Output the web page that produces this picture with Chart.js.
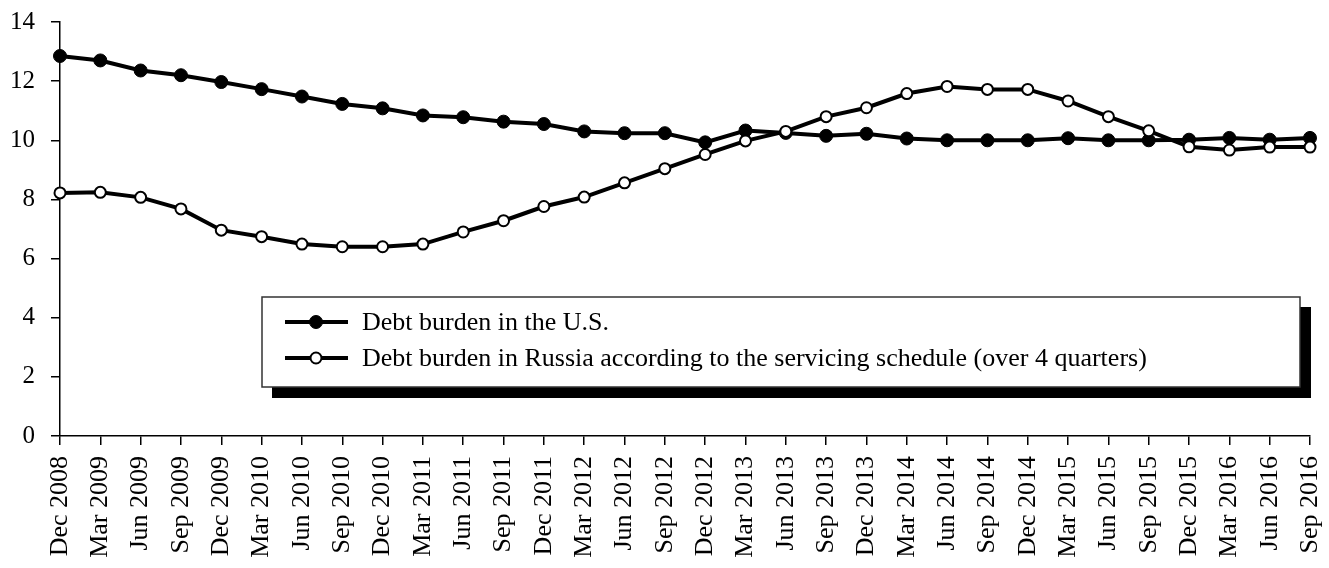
<!DOCTYPE html>
<html>
<head>
<meta charset="utf-8">
<script src="https://cdn.jsdelivr.net/npm/chart.js@4/dist/chart.umd.min.js"></script>
<style>
  html, body { margin: 0; padding: 0; background: #fff; }
  #wrap { width: 1329px; height: 568px; }
</style>
</head>
<body>
<div id="wrap"><canvas id="grafica"></canvas></div>
<script>
const trimestres = [
  "Dec 2008", "Mar 2009", "Jun 2009", "Sep 2009", "Dec 2009", "Mar 2010", "Jun 2010", "Sep 2010",
  "Dec 2010", "Mar 2011", "Jun 2011", "Sep 2011", "Dec 2011", "Mar 2012", "Jun 2012", "Sep 2012",
  "Dec 2012", "Mar 2013", "Jun 2013", "Sep 2013", "Dec 2013", "Mar 2014", "Jun 2014", "Sep 2014",
  "Dec 2014", "Mar 2015", "Jun 2015", "Sep 2015", "Dec 2015", "Mar 2016", "Jun 2016", "Sep 2016"
];

const deudaUSA = [
  12.85, 12.7, 12.36, 12.2, 11.97, 11.73, 11.48, 11.23,
  11.08, 10.84, 10.78, 10.63, 10.55, 10.3, 10.24, 10.24,
  9.93, 10.33, 10.25, 10.15, 10.22, 10.06, 10.0, 10.0,
  10.0, 10.07, 10.0, 10.0, 10.02, 10.08, 10.02, 10.08
];

const deudaRusia = [
  8.22, 8.24, 8.07, 7.68, 6.96, 6.74, 6.49, 6.4,
  6.4, 6.49, 6.9, 7.28, 7.76, 8.08, 8.56, 9.04,
  9.52, 9.98, 10.3, 10.8, 11.1, 11.58, 11.82, 11.72,
  11.72, 11.33, 10.8, 10.32, 9.78, 9.67, 9.77, 9.77
];

const ticksY = [0, 2, 4, 6, 8, 10, 12, 14];

const etiquetas = [
  "Debt burden in the U.S.",
  "Debt burden in Russia according to the servicing schedule (over 4 quarters)"
];

const fuente = "'Liberation Serif', 'Times New Roman', serif";

// leyenda con sombra negra, dibujada a mano
const leyendaSombra = {
  id: "leyendaSombra",
  afterDraw(chart) {
    const ctx = chart.ctx;
    const x0 = 262, y0 = 297, x1 = 1300, y1 = 387;
    ctx.save();
    ctx.fillStyle = "#000";
    ctx.fillRect(x0 + 10, y0 + 10, x1 - x0 + 1, y1 - y0 + 1);
    ctx.fillStyle = "#fff";
    ctx.fillRect(x0, y0, x1 - x0, y1 - y0);
    ctx.strokeStyle = "#333";
    ctx.lineWidth = 1.5;
    ctx.strokeRect(x0, y0, x1 - x0, y1 - y0);

    const filas = [322, 358];
    chart.data.datasets.forEach((ds, i) => {
      const y = filas[i];
      ctx.strokeStyle = "#000";
      ctx.lineWidth = 4;
      ctx.beginPath();
      ctx.moveTo(285, y);
      ctx.lineTo(348, y);
      ctx.stroke();
      ctx.beginPath();
      ctx.arc(316, y, ds.pointRadius, 0, Math.PI * 2);
      ctx.fillStyle = ds.pointBackgroundColor;
      ctx.fill();
      ctx.lineWidth = ds.pointBorderWidth;
      ctx.stroke();

      ctx.fillStyle = "#000";
      ctx.font = "26px " + fuente;
      ctx.textBaseline = "middle";
      ctx.textAlign = "left";
      ctx.fillText(ds.label, 362, y + 1);
    });
    ctx.restore();
  }
};

// quitar el relleno automatico que Chart.js deja para las etiquetas
const sinRelleno = (s) => {
  s.paddingTop = 0;
  s.paddingBottom = 0;
  s.paddingLeft = 0;
  s.paddingRight = 0;
};

new Chart(document.querySelector("#grafica"), {
  type: "line",
  data: {
    labels: trimestres,
    datasets: [
      {
        label: etiquetas[0],
        data: deudaUSA,
        borderColor: "#000",
        borderWidth: 4,
        pointRadius: 6.5,
        pointBackgroundColor: "#000",
        pointBorderColor: "#000",
        pointBorderWidth: 1,
        tension: 0,
        clip: false,
        order: 1
      },
      {
        label: etiquetas[1],
        data: deudaRusia,
        borderColor: "#000",
        borderWidth: 4,
        pointRadius: 5.5,
        pointBackgroundColor: "#fff",
        pointBorderColor: "#000",
        pointBorderWidth: 2,
        tension: 0,
        clip: false,
        order: 0
      }
    ]
  },
  options: {
    responsive: true,
    maintainAspectRatio: false,
    animation: false,
    layout: { padding: { top: 22, right: 19, left: 0, bottom: 0 } },
    plugins: {
      legend: { display: false },
      tooltip: { enabled: false }
    },
    scales: {
      x: {
        offset: false,
        afterFit: (s) => { s.height = 132; sinRelleno(s); },
        border: { display: true, color: "#000", width: 1.5 },
        grid: { display: true, drawOnChartArea: false, drawTicks: true, tickLength: 9, color: "#000", lineWidth: 1.5 },
        ticks: {
          autoSkip: false,
          minRotation: 90,
          maxRotation: 90,
          padding: 11,
          color: "#000",
          font: { family: fuente, size: 26 }
        }
      },
      y: {
        min: 0,
        max: 14,
        afterFit: (s) => { s.width = 60; sinRelleno(s); },
        afterBuildTicks: (s) => { s.ticks = ticksY.map(v => ({ value: v })); },
        border: { display: true, color: "#000", width: 1.5 },
        grid: { display: true, drawOnChartArea: false, drawTicks: true, tickLength: 9, color: "#000", lineWidth: 1.5 },
        ticks: {
          padding: 16,
          color: "#000",
          font: { family: fuente, size: 25 }
        }
      }
    }
  },
  plugins: [leyendaSombra]
});
</script>
</body>
</html>
